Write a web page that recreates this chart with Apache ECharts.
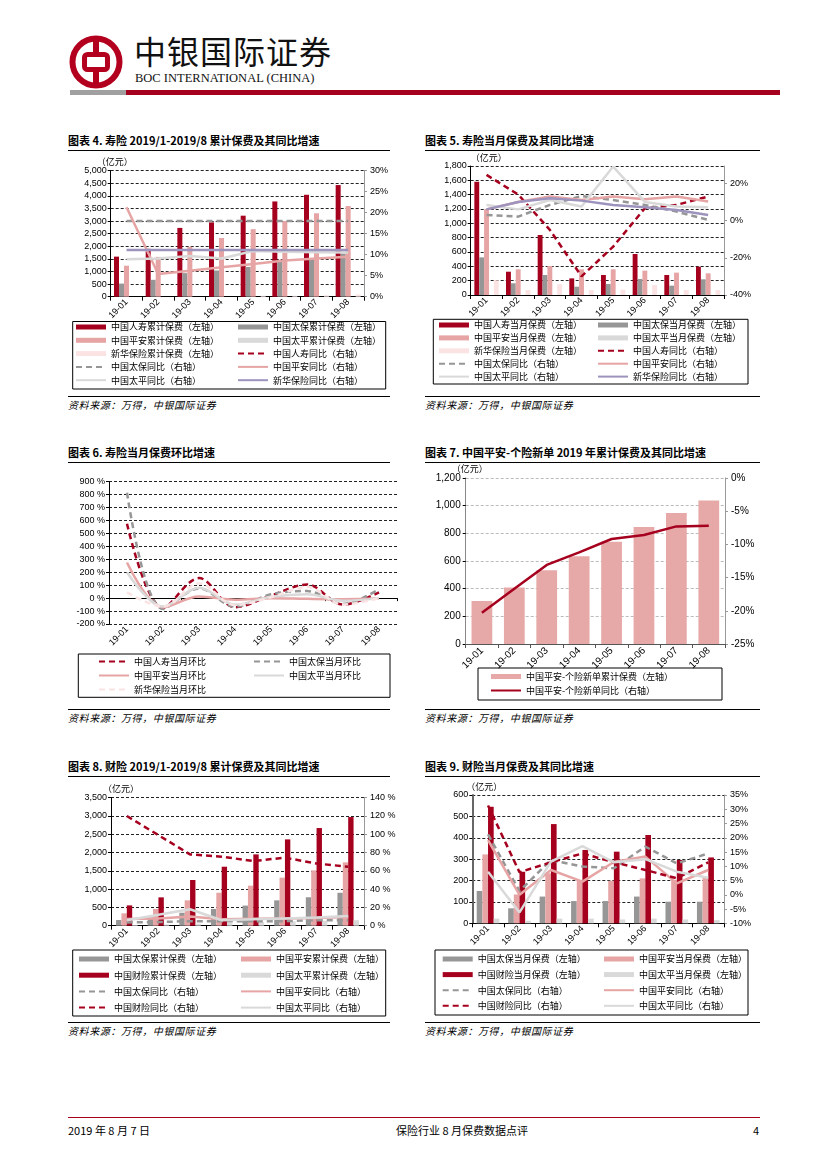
<!DOCTYPE html>
<html><head><meta charset="utf-8">
<script src="https://cdn.jsdelivr.net/npm/echarts@6.0.0/dist/echarts.min.js"></script>
<style>
body{margin:0;background:#fff;}
#page{position:relative;width:827px;height:1169px;overflow:hidden;font-family:'Noto Sans CJK SC',sans-serif;color:#000;}
.abs{position:absolute;white-space:nowrap;}
.title{position:absolute;font-size:11px;font-weight:bold;line-height:14px;white-space:nowrap;}
.src{position:absolute;font-size:10px;font-style:italic;line-height:14px;white-space:nowrap;letter-spacing:0.6px;}
.rule{position:absolute;height:0;border-top:1px solid #000;}
.chart{position:absolute;width:340px;height:240px;}
</style></head>
<body><div id="page">
<svg class="abs" style="left:69px;top:35px" width="54" height="54" viewBox="0 0 54 54">
 <circle cx="27" cy="27" r="23.5" fill="none" stroke="#b3001e" stroke-width="6"/>
 <rect x="15.5" y="19.5" width="23" height="15" rx="3" fill="none" stroke="#b3001e" stroke-width="5"/>
 <rect x="24" y="3" width="6" height="17" fill="#b3001e"/>
 <rect x="24" y="34" width="6" height="17" fill="#b3001e"/>
</svg>
<div class="abs" style="left:134px;top:30px;font-size:32px;line-height:40px;letter-spacing:1px;color:#111;">中银国际证券</div>
<div class="abs" style="left:135px;top:71px;font-family:'Liberation Serif',serif;font-size:12.5px;line-height:15px;color:#111;">BOC INTERNATIONAL (CHINA)</div>
<div class="abs" style="left:70px;top:90px;width:56px;height:5px;background:#a0a0a0"></div>
<div class="abs" style="left:126px;top:90px;width:654px;height:5px;background:#a6001f"></div>

<div class="title" style="left:68px;top:133px">图表 4. 寿险 2019/1-2019/8 累计保费及其同比增速</div>
<div class="title" style="left:425px;top:133px">图表 5. 寿险当月保费及其同比增速</div>
<div class="rule" style="left:68px;top:150px;width:322px"></div>
<div class="rule" style="left:425px;top:150px;width:335px"></div>
<div id="c4" class="chart" style="left:60px;top:152px"></div>
<div id="c5" class="chart" style="left:420px;top:152px"></div>
<div class="rule" style="left:68px;top:396px;width:322px"></div>
<div class="rule" style="left:425px;top:396px;width:335px"></div>
<div class="src" style="left:68px;top:398px">资料来源：万得，中银国际证券</div>
<div class="src" style="left:425px;top:398px">资料来源：万得，中银国际证券</div>

<div class="title" style="left:68px;top:445px">图表 6. 寿险当月保费环比增速</div>
<div class="title" style="left:425px;top:445px">图表 7. 中国平安-个险新单 2019 年累计保费及其同比增速</div>
<div class="rule" style="left:68px;top:462px;width:322px"></div>
<div class="rule" style="left:425px;top:462px;width:335px"></div>
<div id="c6" class="chart" style="left:60px;top:464px"></div>
<div id="c7" class="chart" style="left:420px;top:464px"></div>
<div class="rule" style="left:68px;top:709px;width:322px"></div>
<div class="rule" style="left:425px;top:709px;width:335px"></div>
<div class="src" style="left:68px;top:711px">资料来源：万得，中银国际证券</div>
<div class="src" style="left:425px;top:711px">资料来源：万得，中银国际证券</div>

<div class="title" style="left:68px;top:759px">图表 8. 财险 2019/1-2019/8 累计保费及其同比增速</div>
<div class="title" style="left:425px;top:759px">图表 9. 财险当月保费及其同比增速</div>
<div class="rule" style="left:68px;top:776px;width:322px"></div>
<div class="rule" style="left:425px;top:776px;width:335px"></div>
<div id="c8" class="chart" style="left:60px;top:778px"></div>
<div id="c9" class="chart" style="left:420px;top:778px"></div>
<div class="rule" style="left:68px;top:1022px;width:322px"></div>
<div class="rule" style="left:425px;top:1022px;width:335px"></div>
<div class="src" style="left:68px;top:1024px">资料来源：万得，中银国际证券</div>
<div class="src" style="left:425px;top:1024px">资料来源：万得，中银国际证券</div>

<div class="abs" style="left:68px;top:1117px;width:692px;height:0;border-top:1px solid #a6001f"></div>
<div class="abs" style="left:68px;top:1123px;font-size:11px;line-height:14px">2019 年 8 月 7 日</div>
<div class="abs" style="left:396px;top:1123px;font-size:11px;line-height:14px">保险行业 8 月保费数据点评</div>
<div class="abs" style="left:753px;top:1123px;font-size:11px;line-height:14px">4</div>
</div>
<script>
// ---------------- data ----------------
const months = ['19-01','19-02','19-03','19-04','19-05','19-06','19-07','19-08'];

// 图表4 寿险累计保费（亿元）及同比（%）
const c4_rs = [1590, 1900, 2730, 2950, 3215, 3780, 4045, 4430];
const c4_tb = [520, 670, 935, 1040, 1180, 1395, 1510, 1715];
const c4_pa = [1230, 1580, 1980, 2330, 2680, 3000, 3310, 3600];
const c4_tp = [null, null, null, null, null, null, null, null];
const c4_xh = [null, null, null, null, 40, 40, 60, 90];
const c4_rs_yoy = [null, null, null, null, null, null, null, null];
const c4_tb_yoy = [18.0, 18.0, 18.0, 18.0, 18.0, 18.0, 18.0, 18.0];
const c4_pa_yoy = [21.3, 5.4, 6.2, 7.0, 7.8, 8.6, 9.1, 9.5];
const c4_tp_yoy = [8.9, 9.1, 9.7, 9.1, 10.9, 10.7, 10.6, 10.5];
const c4_xh_yoy = [11.1, 11.1, 11.1, 11.1, 11.1, 11.1, 11.1, 11.1];

// 图表5 寿险当月保费（亿元）及同比（%）
const c5_rs = [1580, 325, 837, 232, 279, 572, 279, 395];
const c5_tb = [525, 163, 279, 116, 153, 223, 130, 219];
const c5_pa = [1195, 358, 405, 358, 358, 340, 312, 302];
const c5_tp = [null, null, null, null, null, null, null, null];
const c5_xh = [205, 70, 150, 70, 75, 140, 70, 70];
const c5_rs_yoy = [24.5, 14, -5, -30, -14, 6.6, 8.4, 12.9];
const c5_tb_yoy = [3, 2.1, 8.4, 13.2, 11, 8.4, 4.8, 0.4];
const c5_pa_yoy = [6, 10, 12.9, 11, 12.9, 11.4, 12.9, 10.2];
const c5_tp_yoy = [8.4, 6, 11, 7.5, 29, 10, 7.5, 7.1];
const c5_xh_yoy = [6, 10, 12, 10.7, 8.4, 7.1, 5.7, 3];

// 图表6 寿险当月保费环比（%）
const c6_rs = [575, -75, 155, -70, 20, 105, -50, 45];
const c6_tb = [815, -85, 75, -65, 30, 55, -45, 70];
const c6_pa = [275, -70, 13, -12, 0, -5, -8, -3];
const c6_tp = [200, -65, 80, -50, 10, 30, -20, 0];
const c6_xh = [45, -65, 114, -53, 7, 87, -50, 0];

// 图表7 中国平安-个险新单累计保费（亿元）及同比（%）
const c7_bar = [310, 408, 533, 634, 739, 845, 946, 1037];
const c7_yoy = [-20.3, -16.7, -13.1, -11.2, -9.2, -8.6, -7.3, -7.2];

// 图表8 财险累计保费（亿元）及同比（%）
const c8_tb = [155, 225, 355, 456, 550, 693, 778, 900];
const c8_pa = [337, 456, 693, 902, 1094, 1313, 1513, 1732];
const c8_cx = [556, 775, 1249, 1613, 1950, 2360, 2670, 2971];
const c8_tp = [22, 34, 56, 78, 96, 118, 136, 151];
const c8_tb_yoy = [3.6, 4, 5, 5, 5, 5, 6, 6];
const c8_pa_yoy = [7.3, 8, 10, 7, 7.5, 8, 8.5, 9.5];
const c8_cx_yoy = [120, 99, 78, 75.5, 70.7, 74.4, 68, 64.5];
const c8_tp_yoy = [6, 12, 18, 6, 7, 8, 9, 10.6];

// 图表9 财险当月保费（亿元）及同比（%）
const c9_tb = [151, 70, 125, 104, 104, 125, 101, 101];
const c9_pa = [322, 135, 234, 202, 199, 210, 202, 213];
const c9_cx = [545, 241, 464, 343, 335, 413, 296, 308];
const c9_tp = [22, 12, 22, 22, 18, 22, 18, 15];
const c9_tb_yoy = [21.2, 1.3, 12.2, 9.9, 9.3, 16.9, 11, 14.5];
const c9_pa_yoy = [19.2, 0, 8.7, 4.6, 11.5, 13.4, 4, 8.7];
const c9_cx_yoy = [31.3, 7.9, 11.4, 14.5, 11.4, 8.7, 5.8, 11.4];
const c9_tp_yoy = [8.1, -6.2, 11.6, 17.1, 11.4, 12.5, 8.1, 6];

// ---------------- styles ----------------
const FN = 'Liberation Sans, Arial, sans-serif';
const FC = 'Noto Sans CJK SC, sans-serif';
const RED = '#a6001f', GRAY = '#969696', PINK = '#e6a4a4', LGRAY = '#d9d9d9', LPINK = '#fbe3e3', PURPLE = '#9d93bd';
const thousands = v => v.toLocaleString('en-US');
const HIDE_SYM = { color: 'rgba(0,0,0,0)', borderColor: 'rgba(0,0,0,0)', borderWidth: 0, opacity: 0 };

function xCat(extra) {
  return Object.assign({
    type: 'category', data: months, boundaryGap: true,
    axisLine: { lineStyle: { color: '#000', width: 1 } },
    axisTick: { show: true, length: 4, lineStyle: { color: '#000' } },
    axisLabel: { rotate: 45, fontSize: 9, fontFamily: FN, color: '#000', margin: 4, interval: 0 }
  }, extra || {});
}
function yLeft(min, max, interval, fmt, extra) {
  return Object.assign({
    type: 'value', min, max, interval, position: 'left',
    axisLine: { show: true, lineStyle: { color: '#000' } },
    axisTick: { show: true, length: 3, lineStyle: { color: '#000' } },
    axisLabel: { fontSize: 9, fontFamily: FN, color: '#000', margin: 4, formatter: fmt },
    splitLine: { show: true, lineStyle: { color: '#222', type: [3, 2], width: 1 } }
  }, extra || {});
}
function yRight(min, max, interval, fmt, extra) {
  return Object.assign({
    type: 'value', min, max, interval, position: 'right',
    axisLine: { show: true, lineStyle: { color: '#999' } },
    axisTick: { show: true, length: 3, lineStyle: { color: '#999' } },
    axisLabel: { fontSize: 9, fontFamily: FN, color: '#000', margin: 6, formatter: fmt },
    splitLine: { show: false }
  }, extra || {});
}
function yName(gap, padLeft, align) {
  return { name: '（亿元）', nameLocation: 'end', nameGap: gap,
    nameTextStyle: { fontSize: 9, fontFamily: FC, color: '#000', align: align || 'center', padding: [0, 0, 0, padLeft] } };
}
function bar(name, data, color, gap) {
  return { name, type: 'bar', data, yAxisIndex: 0, itemStyle: { color }, barGap: '0%', barCategoryGap: gap, silent: true };
}
function line(name, data, color, dashed, extra) {
  return Object.assign({ name, type: 'line', data, yAxisIndex: 1, symbol: 'none', showSymbol: false,
    lineStyle: { color, width: 2.5, type: dashed ? [6, 4] : 'solid' }, itemStyle: { color }, silent: true, z: 3 }, extra || {});
}
function legendCol(names, barNames, left, top, gap) {
  return { orient: 'vertical', left, top, padding: 0, itemGap: gap, itemWidth: 30, itemHeight: 5, selectedMode: false,
    data: names.map(n => barNames.indexOf(n) >= 0 ? { name: n, icon: 'rect' } : { name: n, itemStyle: HIDE_SYM }),
    textStyle: { fontSize: 9, fontFamily: FC, color: '#000', lineHeight: 13 } };
}
function box(x, y, w, h) {
  return { type: 'rect', silent: true, shape: { x, y, width: w, height: h }, style: { fill: 'none', stroke: '#000', lineWidth: 1 } };
}

// ---------------- chart 4 ----------------
(function () {
  const n = ['中国人寿累计保费（左轴）', '中国太保累计保费（左轴）', '中国平安累计保费（左轴）', '中国太平累计保费（左轴）', '新华保险累计保费（左轴）',
    '中国人寿同比（右轴）', '中国太保同比（右轴）', '中国平安同比（右轴）', '中国太平同比（右轴）', '新华保险同比（右轴）'];
  const bars = n.slice(0, 5);
  const g = '21%';
  echarts.init(document.getElementById('c4')).setOption({
    animation: false,
    grid: { left: 50.7, top: 18.7, right: 36, bottom: 95.3 },
    xAxis: xCat(),
    yAxis: [yLeft(0, 5000, 500, thousands, yName(2, 8)), yRight(0, 30, 5, v => v + '%')],
    legend: [legendCol([n[0], n[2], n[4], n[6], n[8]], bars, 15, 168.5, 0.3), legendCol([n[1], n[3], n[5], n[7], n[9]], bars, 177, 168.5, 0.3)],
    graphic: [box(12.7, 169.5, 313, 67.5)],
    series: [
      bar(n[0], c4_rs, RED, g), bar(n[1], c4_tb, GRAY, g), bar(n[2], c4_pa, PINK, g), bar(n[3], c4_tp, LGRAY, g), bar(n[4], c4_xh, LPINK, g),
      line(n[5], c4_rs_yoy, RED, true), line(n[6], c4_tb_yoy, GRAY, true), line(n[7], c4_pa_yoy, PINK, false),
      line(n[8], c4_tp_yoy, LGRAY, false), line(n[9], c4_xh_yoy, PURPLE, false)
    ]
  });
})();

// ---------------- chart 5 ----------------
(function () {
  const n = ['中国人寿当月保费（左轴）', '中国太保当月保费（左轴）', '中国平安当月保费（左轴）', '中国太平当月保费（左轴）', '新华保险当月保费（左轴）',
    '中国人寿同比（右轴）', '中国太保同比（右轴）', '中国平安同比（右轴）', '中国太平同比（右轴）', '新华保险同比（右轴）'];
  const bars = n.slice(0, 5);
  const g = '23%';
  echarts.init(document.getElementById('c5')).setOption({
    animation: false,
    grid: { left: 50.7, top: 14, right: 36, bottom: 97 },
    xAxis: xCat(),
    yAxis: [yLeft(0, 1800, 200, thousands, yName(-4.5, 0, 'left')),
      yRight(-40, 29.3, 20, v => v + '%', { axisLabel: { fontSize: 9, fontFamily: FN, color: '#000', margin: 6, showMaxLabel: false, formatter: v => v + '%' } })],
    legend: [legendCol([n[0], n[2], n[4], n[6], n[8]], bars, 18, 166.5, -0.1), legendCol([n[1], n[3], n[5], n[7], n[9]], bars, 177, 166.5, -0.1)],
    graphic: [box(13.3, 167.3, 314.7, 64.7)],
    series: [
      bar(n[0], c5_rs, RED, g), bar(n[1], c5_tb, GRAY, g), bar(n[2], c5_pa, PINK, g), bar(n[3], c5_tp, LGRAY, g), bar(n[4], c5_xh, LPINK, g),
      line(n[5], c5_rs_yoy, RED, true), line(n[6], c5_tb_yoy, GRAY, true), line(n[7], c5_pa_yoy, PINK, false),
      line(n[8], c5_tp_yoy, LGRAY, false), line(n[9], c5_xh_yoy, PURPLE, false)
    ]
  });
})();

// ---------------- chart 6 ----------------
(function () {
  const n = ['中国人寿当月环比', '中国太保当月环比', '中国平安当月环比', '中国太平当月环比', '新华保险当月环比'];
  const sm = { smooth: 0.35, yAxisIndex: 0 };
  echarts.init(document.getElementById('c6')).setOption({
    animation: false,
    grid: { left: 49, top: 17.7, right: 3, bottom: 80 },
    xAxis: [
      xCat({ position: 'top', axisLine: { onZero: true, lineStyle: { color: '#000', width: 1 } }, axisLabel: { show: false }, axisTick: { show: true, inside: true, length: 3, lineStyle: { color: '#000' } } }),
      xCat({ position: 'bottom', axisLine: { show: false, onZero: false }, axisTick: { show: false } })
    ],
    yAxis: [yLeft(-200, 900, 100, v => v + ' %')],
    legend: [legendCol([n[0], n[2], n[4]], [], 38, 191, 1), legendCol([n[1], n[3]], [], 193, 191, 1)],
    graphic: [box(18.3, 190, 311.7, 43.3)],
    series: [
      line(n[0], c6_rs, RED, true, sm), line(n[1], c6_tb, GRAY, true, sm), line(n[2], c6_pa, PINK, false, sm),
      line(n[3], c6_tp, LGRAY, false, sm), line(n[4], c6_xh, LPINK, true, sm)
    ]
  });
})();

// ---------------- chart 7 ----------------
(function () {
  const n = ['中国平安-个险新单累计保费（左轴）', '中国平安-个险新单同比（右轴）'];
  const split = { show: true, lineStyle: { color: '#bbb', type: [3, 2], width: 1 } };
  echarts.init(document.getElementById('c7')).setOption({
    animation: false,
    grid: { left: 45.7, top: 13.3, right: 35, bottom: 60 },
    xAxis: xCat({ axisLine: { lineStyle: { color: '#555' } }, axisTick: { show: true, length: 4, lineStyle: { color: '#555' } },
      axisLabel: { rotate: 45, fontSize: 10, fontFamily: FN, color: '#000', margin: 5, interval: 0 } }),
    yAxis: [
      yLeft(0, 1200, 200, thousands, Object.assign(yName(-4, 8), { splitLine: split, axisLine: { show: true, lineStyle: { color: '#888' } },
        axisLabel: { fontSize: 10, fontFamily: FN, color: '#000', margin: 5, formatter: thousands } })),
      yRight(-25, 0, 5, v => v + '%', { axisLabel: { fontSize: 10, fontFamily: FN, color: '#000', margin: 6, formatter: v => v + '%' } })
    ],
    legend: [legendCol(n, [n[0]], 70, 206, 1)],
    graphic: [box(58, 204, 244, 32)],
    series: [
      { name: n[0], type: 'bar', data: c7_bar, itemStyle: { color: '#e7a8a8' }, barCategoryGap: '36%', silent: true },
      line(n[1], c7_yoy, RED, false)
    ]
  });
})();

// ---------------- chart 8 ----------------
(function () {
  const n = ['中国太保累计保费（左轴）', '中国平安累计保费（左轴）', '中国财险累计保费（左轴）', '中国太平累计保费（左轴）',
    '中国太保同比（右轴）', '中国平安同比（右轴）', '中国财险同比（右轴）', '中国太平同比（右轴）'];
  const bars = n.slice(0, 4);
  const g = '32%';
  echarts.init(document.getElementById('c8')).setOption({
    animation: false,
    grid: { left: 51, top: 19.7, right: 36, bottom: 92.3 },
    xAxis: xCat(),
    yAxis: [yLeft(0, 3500, 500, thousands, yName(-1, 20)), yRight(0, 140, 20, v => v + ' %')],
    legend: [legendCol([n[0], n[2], n[4], n[6]], bars, 18, 174.5, 3.2), legendCol([n[1], n[3], n[5], n[7]], bars, 180, 174.5, 3.2)],
    graphic: [box(12.7, 172, 313, 66)],
    series: [
      bar(n[0], c8_tb, GRAY, g), bar(n[1], c8_pa, PINK, g), bar(n[2], c8_cx, RED, g), bar(n[3], c8_tp, LGRAY, g),
      line(n[4], c8_tb_yoy, GRAY, true), line(n[5], c8_pa_yoy, PINK, false), line(n[6], c8_cx_yoy, RED, true), line(n[7], c8_tp_yoy, LGRAY, false)
    ]
  });
})();

// ---------------- chart 9 ----------------
(function () {
  const n = ['中国太保当月保费（左轴）', '中国平安当月保费（左轴）', '中国财险当月保费（左轴）', '中国太平当月保费（左轴）',
    '中国太保同比（右轴）', '中国平安同比（右轴）', '中国财险同比（右轴）', '中国太平同比（右轴）'];
  const bars = n.slice(0, 4);
  const g = '28%';
  echarts.init(document.getElementById('c9')).setOption({
    animation: false,
    grid: { left: 52.3, top: 17, right: 36, bottom: 94.7 },
    xAxis: xCat(),
    yAxis: [yLeft(0, 600, 100, thousands, Object.assign(yName(0.5, 24), { axisLine: { show: true, lineStyle: { color: '#666', width: 2 } } })),
      yRight(-10, 35, 5, v => v + '%')],
    legend: [legendCol([n[0], n[2], n[4], n[6]], bars, 21.7, 174.5, 2.6), legendCol([n[1], n[3], n[5], n[7]], bars, 183, 174.5, 2.6)],
    graphic: [box(15, 172, 313, 65)],
    series: [
      bar(n[0], c9_tb, GRAY, g), bar(n[1], c9_pa, PINK, g), bar(n[2], c9_cx, RED, g), bar(n[3], c9_tp, LGRAY, g),
      line(n[4], c9_tb_yoy, GRAY, true), line(n[5], c9_pa_yoy, PINK, false), line(n[6], c9_cx_yoy, RED, true), line(n[7], c9_tp_yoy, LGRAY, false)
    ]
  });
})();
</script>
</body></html>
